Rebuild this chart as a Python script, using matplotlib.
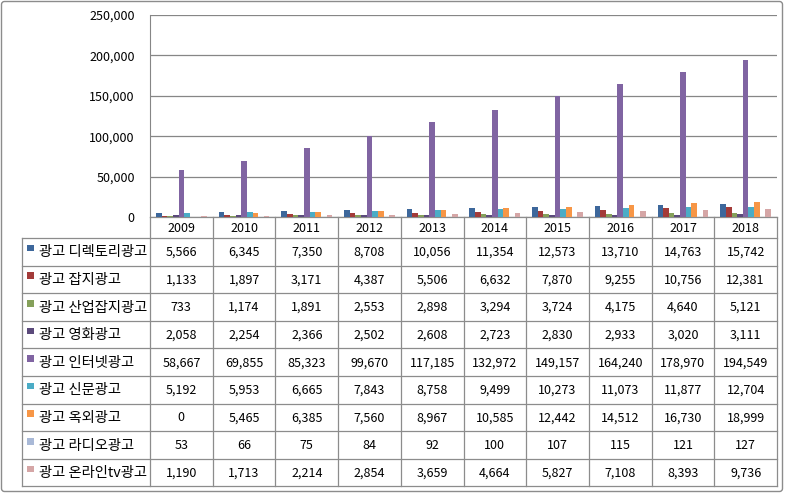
import numpy as np
import matplotlib.pyplot as plt
from matplotlib.patches import Rectangle, FancyBboxPatch

plt.rcParams['font.family'] = ['Noto Sans CJK KR', 'DejaVu Sans']

years = ["2009", "2010", "2011", "2012", "2013", "2014", "2015", "2016", "2017", "2018"]

series_names = [
    "광고 디렉토리광고",
    "광고 잡지광고",
    "광고 산업잡지광고",
    "광고 영화광고",
    "광고 인터넷광고",
    "광고 신문광고",
    "광고 옥외광고",
    "광고 라디오광고",
    "광고 온라인tv광고",
]

directory = [5566, 6345, 7350, 8708, 10056, 11354, 12573, 13710, 14763, 15742]
magazine = [1133, 1897, 3171, 4387, 5506, 6632, 7870, 9255, 10756, 12381]
trade_magazine = [733, 1174, 1891, 2553, 2898, 3294, 3724, 4175, 4640, 5121]
cinema = [2058, 2254, 2366, 2502, 2608, 2723, 2830, 2933, 3020, 3111]
internet = [58667, 69855, 85323, 99670, 117185, 132972, 149157, 164240, 178970, 194549]
newspaper = [5192, 5953, 6665, 7843, 8758, 9499, 10273, 11073, 11877, 12704]
outdoor = [0, 5465, 6385, 7560, 8967, 10585, 12442, 14512, 16730, 18999]
radio = [53, 66, 75, 84, 92, 100, 107, 115, 121, 127]
online_tv = [1190, 1713, 2214, 2854, 3659, 4664, 5827, 7108, 8393, 9736]

series_values = [directory, magazine, trade_magazine, cinema, internet,
                 newspaper, outdoor, radio, online_tv]

colors = ["#3d679b", "#a33b39", "#85a05a", "#5b4a7b", "#8064a2",
          "#4bacc6", "#f79646", "#a9b9d7", "#d5a6a6"]

W, H = 792, 494
fig = plt.figure(figsize=(W / 100, H / 100), dpi=100)

# rama całego wykresu
bg = fig.add_axes([0, 0, 1, 1])
bg.set_xlim(0, W)
bg.set_ylim(H, 0)
bg.axis("off")
bg.add_patch(FancyBboxPatch((1.5, 1.5), 781, 490, boxstyle="round,pad=0,rounding_size=3",
                            fill=False, edgecolor="#8c8c8c", linewidth=1.0))

# obszar wykresu słupkowego
x_left, x_right = 150, 777
y_top, y_bottom = 15, 217
ax = fig.add_axes([x_left / W, 1 - y_bottom / H, (x_right - x_left) / W, (y_bottom - y_top) / H])
n = len(series_values)
bar_w = 0.09
x = np.arange(len(years))
for i, (vals, c) in enumerate(zip(series_values, colors)):
    ax.bar(x + (i - (n - 1) / 2) * bar_w, vals, width=bar_w, color=c, zorder=3, linewidth=0)
ax.set_xlim(-0.5, len(years) - 0.5)
ax.set_ylim(0, 250000)
ax.set_yticks(np.arange(0, 250001, 50000))
ax.set_yticklabels([f"{v:,}" for v in range(0, 250001, 50000)], fontsize=9)
ax.tick_params(axis="y", length=0, pad=11)
ax.set_xticks([])
ax.grid(axis="y", color="#868686", linewidth=0.9, zorder=0)
for s in ["top", "right", "bottom"]:
    ax.spines[s].set_visible(False)
ax.spines["left"].set_color("#868686")
ax.patch.set_alpha(0)

# tabela danych pod wykresem
line_c = "#8c8c8c"
col_w = (x_right - x_left) / len(years)
row_top = 238
row_h = 27.6
table_left = 22
table_bottom = row_top + row_h * len(series_names)

# nagłówek z latami
bg.plot([x_left, x_right], [y_bottom, y_bottom], color=line_c, lw=0.9)
for j, yr in enumerate(years):
    cx = x_left + (j + 0.5) * col_w
    bg.text(cx, (y_bottom + row_top) / 2 + 1, yr, ha="center", va="center", fontsize=9)
for j in range(len(years) + 1):
    xx = x_left + j * col_w
    bg.plot([xx, xx], [y_bottom, table_bottom], color=line_c, lw=0.9)

bg.plot([table_left, table_left], [row_top, table_bottom], color=line_c, lw=0.9)
for i in range(len(series_names) + 1):
    yy = row_top + i * row_h
    bg.plot([table_left, x_right], [yy, yy], color=line_c, lw=0.9)

for i, (name, vals, c) in enumerate(zip(series_names, series_values, colors)):
    yc = row_top + (i + 0.5) * row_h
    bg.add_patch(Rectangle((27, yc - 7), 7, 6.5, color=c, linewidth=0))
    bg.text(39, yc + 0.5, name, ha="left", va="center", fontsize=10.3)
    for j, v in enumerate(vals):
        cx = x_left + (j + 0.5) * col_w
        bg.text(cx, yc + 0.5, f"{v:,}", ha="center", va="center", fontsize=9)

fig.savefig("out.png", dpi=100)
